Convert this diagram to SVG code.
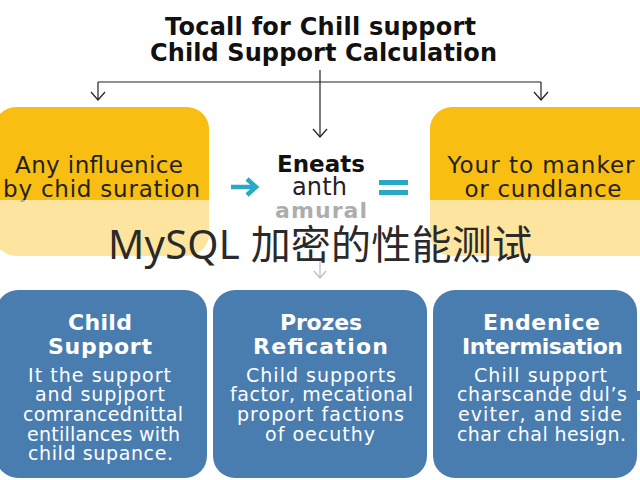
<svg xmlns="http://www.w3.org/2000/svg" width="640" height="480" viewBox="0 0 640 480">
<defs>
<style>
.t{font-family:"DejaVu Sans","Open Sans",sans-serif;text-anchor:middle}
.title{font-weight:bold;font-size:24px;fill:#111}
.ytxt{font-size:23px;fill:#222}
.bh{font-weight:bold;font-size:22px;fill:#fff}
.bb{font-size:19px;fill:#fff}
.ybox{fill:#F9BE12}
.bbox{fill:#4A7DAF}
.con{stroke:#222;stroke-width:1.2;fill:none}
</style>
<marker id="ah" viewBox="-1 -1 11 16" refX="8" refY="7" markerWidth="11" markerHeight="16" orient="auto" markerUnits="userSpaceOnUse">
<path d="M0,0 L8,7 L0,14" fill="none" stroke="#222" stroke-width="1.2"/>
</marker>
</defs>
<rect width="640" height="480" fill="#fff"/>
<g id="title">
<text class="t title" x="320.5" y="35" textLength="311">Tocall for Chill support</text>
<text class="t title" x="323.5" y="61" textLength="347">Child Support Calculation</text>
</g>
<g id="connectors">
<path class="con" d="M320,70 V137" marker-end="url(#ah)"/>
<path class="con" d="M98,82 H541"/>
<path class="con" d="M98,82 V100" marker-end="url(#ah)"/>
<path class="con" d="M541,82 V100" marker-end="url(#ah)"/>
<path d="M320,258 V278" stroke="#bbb" stroke-width="1.2" fill="none"/>
<path d="M314,271 L320,278 L326,271" stroke="#bbb" stroke-width="1.2" fill="none"/>
</g>
<g id="node-left">
<rect class="ybox" x="-6" y="107" width="215" height="149" rx="22"/>
<text class="t ytxt" x="99" y="173" textLength="168">Any influenice</text>
<text class="t ytxt" x="101.5" y="197" textLength="197">by chid suration</text>
</g>
<g id="node-right">
<rect class="ybox" x="430" y="107" width="230" height="149" rx="22"/>
<text class="t ytxt" x="541" y="173" textLength="187">Your to manker</text>
<text class="t ytxt" x="543" y="197" textLength="157">or cundlance</text>
</g>
<g id="node-center">
<text class="t" x="321" y="172" font-weight="bold" font-size="23" fill="#111" textLength="88">Eneats</text>
<text class="t" x="319.5" y="195" font-size="24" fill="#222" textLength="55">anth</text>
<text class="t" x="321" y="218" font-weight="bold" font-size="22" fill="#333" textLength="92">amural</text>
</g>
<g id="ops">
<path d="M231,187 H255" stroke="#2BA8C4" stroke-width="4.5" fill="none"/>
<path d="M247,179 L256,187 L247,195" stroke="#2BA8C4" stroke-width="4.5" fill="none"/>
<rect x="379" y="180" width="29" height="5" fill="#2BA8C4"/>
<rect x="379" y="190" width="29" height="5" fill="#2BA8C4"/>
</g>
<g id="band">
<rect x="0" y="200" width="640" height="58" fill="#fff" opacity="0.6"/>
</g>
<g id="node-b1">
<rect class="bbox" x="-4" y="290" width="211" height="188" rx="22"/>
<text class="t bh" x="100" y="330" textLength="64">Child</text>
<text class="t bh" x="100" y="354" textLength="104">Support</text>
<text class="t bb" x="99.5" y="382" textLength="143">It the support</text>
<text class="t bb" x="100" y="401" textLength="130">and supjport</text>
<text class="t bb" x="103" y="421" textLength="160">comrancednittal</text>
<text class="t bb" x="103.5" y="441" textLength="153">entillances with</text>
<text class="t bb" x="100.5" y="460" textLength="145">child supance.</text>
</g>
<g id="node-b2">
<rect class="bbox" x="213" y="290" width="214" height="188" rx="22"/>
<text class="t bh" x="321" y="330" textLength="82">Prozes</text>
<text class="t bh" x="320.5" y="354" textLength="135">Refication</text>
<text class="t bb" x="321" y="382" textLength="150">Child supports</text>
<text class="t bb" x="321.5" y="401" textLength="183">factor, mecational</text>
<text class="t bb" x="320.5" y="421" textLength="167">proport factions</text>
<text class="t bb" x="320" y="441" textLength="110">of oecuthy</text>
</g>
<g id="node-b3">
<rect class="bbox" x="433" y="290" width="204" height="188" rx="22"/>
<rect x="637" y="391" width="3" height="9" fill="#4A7DAF"/>
<text class="t bh" x="541.5" y="330" textLength="117">Endenice</text>
<text class="t bh" x="542.5" y="354" textLength="161">Intermisation</text>
<text class="t bb" x="540.5" y="382" textLength="133">Chill support</text>
<text class="t bb" x="542" y="401" textLength="170">charscande dul’s</text>
<text class="t bb" x="540" y="421" textLength="164">eviter, and side</text>
<text class="t bb" x="541.5" y="441" textLength="169">char chal hesign.</text>
</g>
<g id="watermark">
<text x="320" y="259" text-anchor="middle" font-family="'Noto Sans','Noto Sans CJK SC',sans-serif" font-size="40" fill="#2a2a2a" textLength="424">MySQL 加密的性能测试</text>
</g>
</svg>
